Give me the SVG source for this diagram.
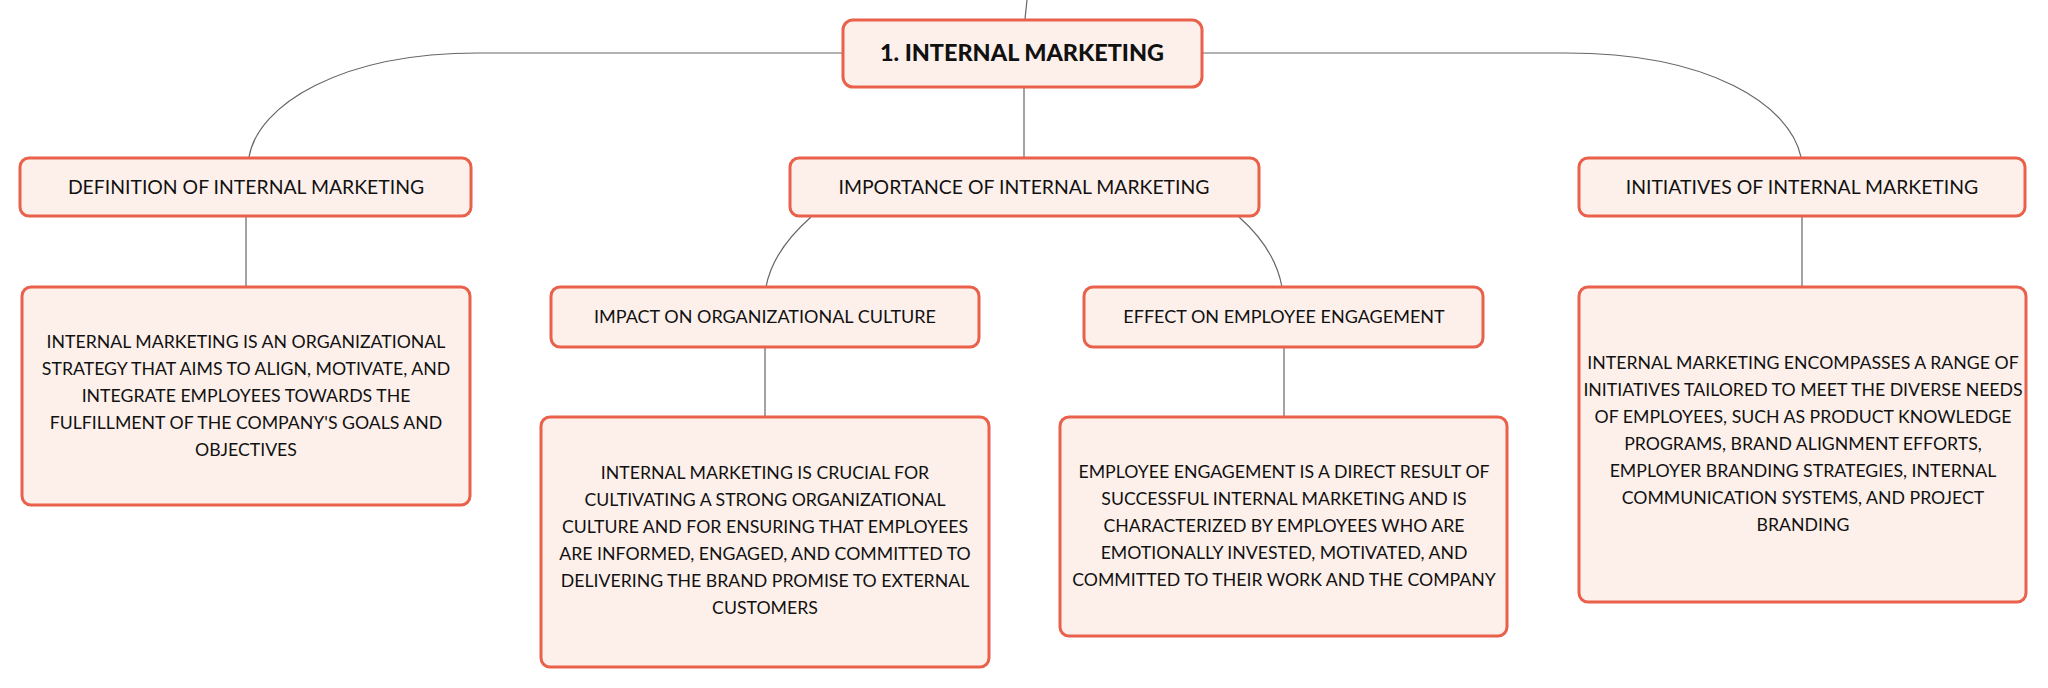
<svg xmlns="http://www.w3.org/2000/svg" width="2048" height="688" viewBox="0 0 2048 688">
<style>
.box{fill:#fdf0eb;stroke:#e9604b;stroke-width:3}
.t{font-family:Lato,"Noto Sans","Liberation Sans",sans-serif;fill:#111;text-anchor:middle}
.root{font-size:23.4px;font-weight:900}
.l1{font-size:19.4px}
.l2{font-size:18px}
.body{font-size:17.7px}
.c{fill:none;stroke:#666;stroke-width:1.2}
</style>
<rect width="2048" height="688" fill="#ffffff"/>
<g id="connectors">
<path class="c" d="M1027 0 L1025 19"/>
<path class="c" d="M842 53 L478 53 C340 53 258 105 249 157"/>
<path class="c" d="M1202 53 L1566 53 C1710 53 1790 105 1801 157"/>
<path class="c" d="M1024 88 L1024 157"/>
<path class="c" d="M246 217 L246 287"/>
<path class="c" d="M811 217 C785 240 770 265 766 287"/>
<path class="c" d="M1239 217 C1265 240 1278 265 1282 287"/>
<path class="c" d="M765 348 L765 417"/>
<path class="c" d="M1284 348 L1284 417"/>
<path class="c" d="M1802 217 L1802 287"/>
</g>
<g id="root">
<rect class="box" x="843" y="20" width="359" height="67" rx="10"/>
<text class="t root" x="1022" y="61">1. INTERNAL MARKETING</text>
</g>
<g id="definition">
<rect class="box" x="20" y="158" width="451" height="58" rx="9"/>
<text class="t l1" x="246" y="194">DEFINITION OF INTERNAL MARKETING</text>
</g>
<g id="importance">
<rect class="box" x="790" y="158" width="469" height="58" rx="9"/>
<text class="t l1" x="1024" y="194">IMPORTANCE OF INTERNAL MARKETING</text>
</g>
<g id="initiatives">
<rect class="box" x="1579" y="158" width="446" height="58" rx="9"/>
<text class="t l1" x="1802" y="194">INITIATIVES OF INTERNAL MARKETING</text>
</g>
<g id="definition-text">
<rect class="box" x="22" y="287" width="448" height="218" rx="9"/>
<text class="t body" x="246" y="348">INTERNAL MARKETING IS AN ORGANIZATIONAL</text>
<text class="t body" x="246" y="375">STRATEGY THAT AIMS TO ALIGN, MOTIVATE, AND</text>
<text class="t body" x="246" y="402">INTEGRATE EMPLOYEES TOWARDS THE</text>
<text class="t body" x="246" y="429">FULFILLMENT OF THE COMPANY'S GOALS AND</text>
<text class="t body" x="246" y="456">OBJECTIVES</text>
</g>
<g id="impact">
<rect class="box" x="551" y="287" width="428" height="60" rx="9"/>
<text class="t l2" x="765" y="323">IMPACT ON ORGANIZATIONAL CULTURE</text>
</g>
<g id="effect">
<rect class="box" x="1084" y="287" width="399" height="60" rx="9"/>
<text class="t l2" x="1284" y="323">EFFECT ON EMPLOYEE ENGAGEMENT</text>
</g>
<g id="impact-text">
<rect class="box" x="541" y="417" width="448" height="250" rx="9"/>
<text class="t body" x="765" y="479">INTERNAL MARKETING IS CRUCIAL FOR</text>
<text class="t body" x="765" y="506">CULTIVATING A STRONG ORGANIZATIONAL</text>
<text class="t body" x="765" y="533">CULTURE AND FOR ENSURING THAT EMPLOYEES</text>
<text class="t body" x="765" y="560">ARE INFORMED, ENGAGED, AND COMMITTED TO</text>
<text class="t body" x="765" y="587">DELIVERING THE BRAND PROMISE TO EXTERNAL</text>
<text class="t body" x="765" y="614">CUSTOMERS</text>
</g>
<g id="effect-text">
<rect class="box" x="1060" y="417" width="447" height="219" rx="9"/>
<text class="t body" x="1284" y="478">EMPLOYEE ENGAGEMENT IS A DIRECT RESULT OF</text>
<text class="t body" x="1284" y="505">SUCCESSFUL INTERNAL MARKETING AND IS</text>
<text class="t body" x="1284" y="532">CHARACTERIZED BY EMPLOYEES WHO ARE</text>
<text class="t body" x="1284" y="559">EMOTIONALLY INVESTED, MOTIVATED, AND</text>
<text class="t body" x="1284" y="586">COMMITTED TO THEIR WORK AND THE COMPANY</text>
</g>
<g id="initiatives-text">
<rect class="box" x="1579" y="287" width="447" height="315" rx="9"/>
<text class="t body" x="1803" y="369">INTERNAL MARKETING ENCOMPASSES A RANGE OF</text>
<text class="t body" x="1803" y="396">INITIATIVES TAILORED TO MEET THE DIVERSE NEEDS</text>
<text class="t body" x="1803" y="423">OF EMPLOYEES, SUCH AS PRODUCT KNOWLEDGE</text>
<text class="t body" x="1803" y="450">PROGRAMS, BRAND ALIGNMENT EFFORTS,</text>
<text class="t body" x="1803" y="477">EMPLOYER BRANDING STRATEGIES, INTERNAL</text>
<text class="t body" x="1803" y="504">COMMUNICATION SYSTEMS, AND PROJECT</text>
<text class="t body" x="1803" y="531">BRANDING</text>
</g>
</svg>
